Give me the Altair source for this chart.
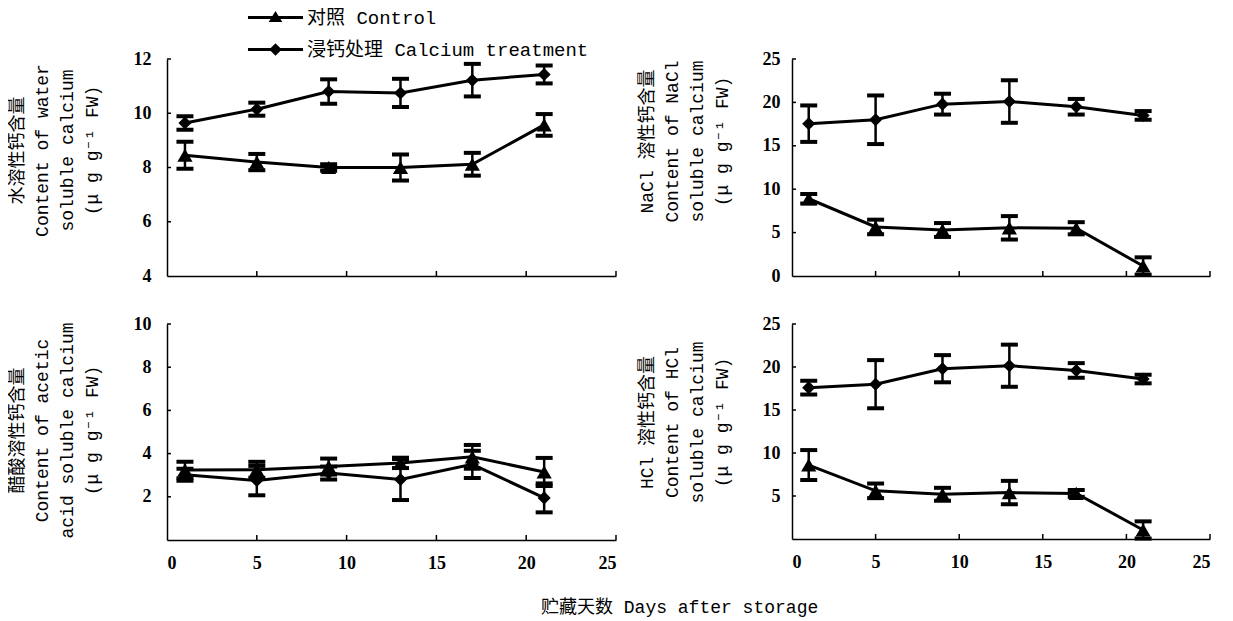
import altair as alt
import pandas as pd

days = [1, 5, 9, 13, 17, 21]
series_names = ["对照 Control", "浸钙处理 Calcium treatment"]

water_ctrl = [8.45, 8.2, 8.0, 8.0, 8.12, 9.57]
water_ctrl_err = [0.5, 0.3, 0.12, 0.48, 0.42, 0.4]
water_ca = [9.64, 10.15, 10.8, 10.75, 11.22, 11.43]
water_ca_err = [0.25, 0.24, 0.45, 0.52, 0.6, 0.33]

nacl_ctrl = [8.9, 5.65, 5.3, 5.55, 5.5, 1.15]
nacl_ctrl_err = [0.55, 0.84, 0.8, 1.35, 0.7, 1.0]
nacl_ca = [17.55, 18.0, 19.8, 20.1, 19.5, 18.5]
nacl_ca_err = [2.1, 2.8, 1.2, 2.45, 0.9, 0.5]

acetic_ctrl = [3.24, 3.25, 3.4, 3.57, 3.85, 3.15]
acetic_ctrl_err = [0.38, 0.37, 0.37, 0.24, 0.55, 0.65]
acetic_ca = [3.02, 2.75, 3.1, 2.8, 3.5, 1.95]
acetic_ca_err = [0.28, 0.68, 0.3, 0.95, 0.63, 0.67]

hcl_ctrl = [8.6, 5.6, 5.2, 5.4, 5.3, 1.05]
hcl_ctrl_err = [1.74, 0.85, 0.75, 1.36, 0.4, 1.0]
hcl_ca = [17.6, 18.0, 19.8, 20.15, 19.6, 18.6]
hcl_ca_err = [0.8, 2.8, 1.58, 2.45, 0.85, 0.5]

x_labels = [0, 5, 10, 15, 20, 25]
x_ticks = [5, 10, 15, 20, 25]

title_water = ["水溶性钙含量", "Content of water", "soluble calcium", "(μ g g⁻¹ FW)"]
title_nacl = ["NaCl 溶性钙含量", "Content of NaCl", "soluble calcium", "(μ g g⁻¹ FW)"]
title_acetic = ["醋酸溶性钙含量", "Content of acetic", "acid soluble calcium", "(μ g g⁻¹ FW)"]
title_hcl = ["HCl 溶性钙含量", "Content of HCl", "soluble calcium", "(μ g g⁻¹ FW)"]
x_title = "贮藏天数  Days after storage"

FONT_TXT = "Liberation Mono, Noto Sans CJK SC, DejaVu Sans Mono"
FONT_NUM = "Liberation Serif"

# legend symbols: a filled bar (the line) plus the marker, in symbol units
PATH_TRI = "M-3.44,-0.19H3.44V0.19H-3.44ZM0,-0.8L0.85,0.55H-0.85Z"
PATH_DIA = "M-3.44,-0.19H3.44V0.19H-3.44ZM0,-0.78L0.78,0L0,0.78L-0.78,0Z"


def make_df(ctrl, ctrl_err, ca, ca_err):
    rows = []
    for s, vals, errs in [(series_names[0], ctrl, ctrl_err), (series_names[1], ca, ca_err)]:
        for d, v, e in zip(days, vals, errs):
            rows.append({"day": d, "value": v, "lo": v - e, "hi": v + e, "series": s})
    return pd.DataFrame(rows)


def panel(ctrl, ctrl_err, ca, ca_err, ydomain, yvalues, yticks, ytitle, w, h,
          show_x, label_pad, title_pad, title_y, legend=False):
    df = make_df(ctrl, ctrl_err, ca, ca_err)
    xaxis = alt.Axis(values=x_labels, labels=show_x, ticks=False, tickSize=0, grid=False,
                     title=None, domainColor="black", domainWidth=1.5, labelPadding=14,
                     labelFont=FONT_NUM, labelFontWeight="bold", labelFontSize=18,
                     labelColor="black")
    yaxis = alt.Axis(values=yvalues, ticks=False, tickSize=0, grid=False, title=ytitle,
                     titleY=title_y, domainColor="black", domainWidth=1.5,
                     labelPadding=label_pad, labelFont=FONT_NUM, labelFontWeight="bold",
                     labelFontSize=18, labelColor="black", titleFont=FONT_TXT,
                     titleFontSize=18, titleFontWeight="normal", titleColor="black",
                     titleLineHeight=25, titlePadding=title_pad)

    def X(f):
        return alt.X(f, type="quantitative", scale=alt.Scale(domain=[0, 25], nice=False), axis=xaxis)

    def Y(f):
        return alt.Y(f, type="quantitative",
                     scale=alt.Scale(domain=ydomain, nice=False, zero=False), axis=yaxis)

    base = alt.Chart(df)
    bars = base.mark_rule(color="black", strokeWidth=2.5).encode(x=X("day"), y=Y("lo"), y2="hi")
    caps = base.transform_fold(["lo", "hi"], as_=["end", "cap"]).mark_tick(
        orient="horizontal", color="black", size=17, thickness=4, opacity=1
    ).encode(x=X("day"), y=Y("cap"))
    line = base.mark_line(color="black", strokeWidth=3).encode(
        x=X("day"), y=Y("value"), detail="series:N")
    tri = base.transform_filter(alt.datum.series == series_names[0]).mark_point(
        shape="triangle-up", filled=True, size=230, color="black", opacity=1
    ).encode(x=X("day"), y=Y("value"))
    dia = base.transform_filter(alt.datum.series == series_names[1]).mark_point(
        shape="diamond", filled=True, size=170, color="black", opacity=1
    ).encode(x=X("day"), y=Y("value"))
    xt = alt.Chart(pd.DataFrame({"t": x_ticks})).mark_rule(color="black", strokeWidth=1.5).encode(
        x=X("t"), y=alt.value(h), y2=alt.value(h - 5))
    yt = alt.Chart(pd.DataFrame({"t": yticks})).mark_rule(color="black", strokeWidth=1.5).encode(
        y=Y("t"), x=alt.value(0), x2=alt.value(4))
    layers = [bars, caps, line, tri, dia, xt, yt]
    if legend:
        leg = alt.Chart(pd.DataFrame({"series": series_names})).mark_point(
            filled=True, color="black", opacity=0
        ).encode(shape=alt.Shape(
            "series:N",
            scale=alt.Scale(domain=series_names, range=[PATH_TRI, PATH_DIA]),
            legend=alt.Legend(orient="none", legendX=99, legendY=-51, title=None,
                              direction="vertical", symbolSize=256, symbolStrokeWidth=0,
                              symbolFillColor="black", symbolOpacity=1,
                              labelFont=FONT_TXT, labelFontSize=19,
                              labelColor="black", labelOffset=22, rowPadding=12,
                              labelLimit=500, padding=0)))
        layers.append(leg)
    return alt.layer(*layers).properties(width=w, height=h)


tl = panel(water_ctrl, water_ctrl_err, water_ca, water_ca_err, [4, 12], [4, 6, 8, 10, 12],
           [6, 8, 10, 12], title_water, 449, 217, False, 16, 32, 91, legend=True)
tr = panel(nacl_ctrl, nacl_ctrl_err, nacl_ca, nacl_ca_err, [0, 25], [0, 5, 10, 15, 20, 25],
           [5, 10, 15, 20, 25], title_nacl, 418, 217, False, 12, 31, 82)
bl = panel(acetic_ctrl, acetic_ctrl_err, acetic_ca, acetic_ca_err, [0, 10], [2, 4, 6, 8, 10],
           [2, 4, 6, 8, 10], title_acetic, 449, 216, True, 16, 32, 106)
br = panel(hcl_ctrl, hcl_ctrl_err, hcl_ca, hcl_ca_err, [0, 25], [5, 10, 15, 20, 25],
           [5, 10, 15, 20, 25], title_hcl, 418, 215, True, 12, 31, 98)

chart = alt.concat(tl, tr, bl, br, columns=2, spacing={"row": 30, "column": 21}).properties(
    padding=0,
    title=alt.TitleParams(x_title, orient="bottom", anchor="start", dx=533, offset=27,
                          font=FONT_TXT, fontSize=18, fontWeight="normal", color="black"),
).configure_view(stroke=None)

chart.save("out.html", embed_options={"renderer": "svg", "actions": False})
